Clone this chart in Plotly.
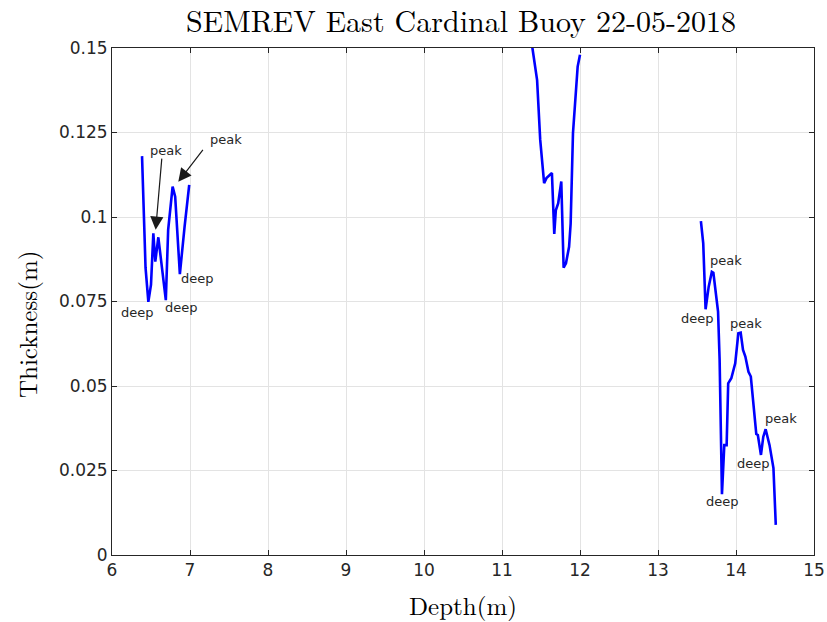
import plotly.graph_objects as go

# depth (m) / thickness (m)
depth_a = [6.385, 6.43, 6.466, 6.50, 6.53, 6.555, 6.594, 6.62, 6.69, 6.72, 6.777, 6.81, 6.87, 6.93, 6.99]
thick_a = [0.118, 0.085, 0.0749, 0.080, 0.0952, 0.0868, 0.094, 0.0893, 0.0754, 0.0962, 0.109, 0.106, 0.0831, 0.097, 0.1095]

depth_b = [11.37, 11.39, 11.45, 11.49, 11.54, 11.57, 11.64, 11.67, 11.69, 11.72, 11.76, 11.79, 11.82, 11.86, 11.88, 11.91, 11.97, 12.0]
thick_b = [0.158, 0.15, 0.1405, 0.1228, 0.110, 0.1115, 0.113, 0.095, 0.102, 0.104, 0.1105, 0.085, 0.0863, 0.0912, 0.098, 0.1248, 0.1445, 0.148]

depth_c = [13.55, 13.58, 13.61, 13.65, 13.69, 13.71, 13.77, 13.79, 13.82, 13.85, 13.88, 13.90, 13.94, 13.99, 14.03, 14.06, 14.09, 14.12,
           14.16, 14.19, 14.26, 14.28, 14.32, 14.35, 14.38, 14.43, 14.48, 14.51]
thick_c = [0.0988, 0.0922, 0.0727, 0.0794, 0.0838, 0.0835, 0.072, 0.0577, 0.018, 0.0325, 0.0325, 0.0508, 0.0523, 0.0567, 0.0656, 0.0658, 0.0607,
           0.0587, 0.0542, 0.0528, 0.0358, 0.0355, 0.0296, 0.035, 0.0372, 0.0325, 0.0257, 0.0089]

# text labels: (depth, thickness, text)
labels = [
    (6.69, 0.1198, "peak"), (7.46, 0.1228, "peak"),
    (6.333, 0.0716, "deep"), (6.885, 0.0731, "deep"), (7.10, 0.0817, "deep"),
    (13.87, 0.087, "peak"), (13.50, 0.0701, "deep"), (14.13, 0.0686, "peak"),
    (14.58, 0.0405, "peak"), (14.23, 0.0272, "deep"), (13.83, 0.0157, "deep"),
]
# arrows: (tail depth, tail thickness, tip depth, tip thickness)
arrows = [(6.64, 0.1177, 6.56, 0.0962), (7.18, 0.1203, 6.85, 0.1104)]

y_ticks = [0, 0.025, 0.05, 0.075, 0.1, 0.125, 0.15]
y_ticktext = ["0", "0.025", "0.05", "0.075", "0.1", "0.125", "0.15"]

x = depth_a + [None] + depth_b + [None] + depth_c
y = thick_a + [None] + thick_b + [None] + thick_c

fig = go.Figure()
fig.add_trace(go.Scatter(x=x, y=y, mode="lines", line=dict(color="#0000ff", width=2.6),
                         connectgaps=False, showlegend=False))

serif = "Latin Modern Roman, CMU Serif, Liberation Serif, serif"
tick_font = dict(family="DejaVu Sans", size=17, color="#262626")

annos = []
for d, t, s in labels:
    annos.append(dict(x=d, y=t, text=s, showarrow=False, xref="x", yref="y",
                      font=dict(family="DejaVu Sans", size=13, color="#262626")))
for x0, y0, x1, y1 in arrows:
    annos.append(dict(x=x1, y=y1, ax=x0, ay=y0, xref="x", yref="y", axref="x", ayref="y",
                      text="", showarrow=True, arrowhead=2, arrowsize=2.2, arrowwidth=1.2,
                      arrowcolor="#1a1a1a"))
# axis titles as annotations so they don't push the margins
annos.append(dict(x=0.5, y=-0.0986, xref="paper", yref="paper", text="Depth(m)", showarrow=False,
                  yanchor="middle", font=dict(family=serif, size=25, color="black")))
annos.append(dict(x=-0.1225, y=0.4536, xref="paper", yref="paper", text="Thickness(m)", showarrow=False,
                  textangle=-90, xanchor="center", yanchor="middle", font=dict(family=serif, size=25, color="black")))

fig.update_layout(
    width=827, height=622,
    margin=dict(l=112, r=13, t=48, b=67),
    paper_bgcolor="white", plot_bgcolor="white",
    title=dict(text="SEMREV East Cardinal Buoy 22-05-2018", x=0.5574, xanchor="center", y=0.966, yanchor="middle",
               font=dict(family=serif, size=30, color="black")),
    xaxis=dict(range=[6, 15], dtick=1, tick0=6, showgrid=True, gridcolor="#e3e3e3", gridwidth=1,
               showline=True, linecolor="#262626", linewidth=1, mirror="ticks", ticks="inside",
               ticklen=5, tickcolor="#262626", tickfont=tick_font, zeroline=False,
               automargin=False, ticklabeloverflow="allow"),
    yaxis=dict(range=[0, 0.15], tickvals=y_ticks, ticktext=y_ticktext, showgrid=True, gridcolor="#e3e3e3",
               gridwidth=1, showline=True, linecolor="#262626", linewidth=1, mirror="ticks", ticks="inside",
               ticklen=5, tickcolor="#262626", tickfont=tick_font, zeroline=False, automargin=False),
    annotations=annos,
)

# drop the default page margin so the 827x622 figure fills the window exactly
fig.write_html("out.html", config={"displayModeBar": False},
               post_script="document.body.style.margin='0';document.body.style.overflow='hidden';")
